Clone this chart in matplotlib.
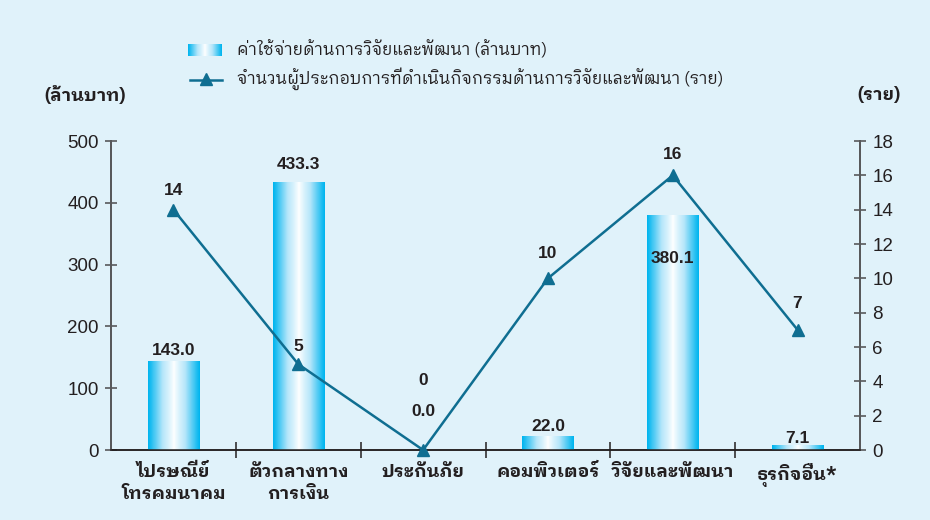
import numpy as np
import matplotlib
matplotlib.use('Agg')
import matplotlib.pyplot as plt
from matplotlib.colors import LinearSegmentedColormap
from matplotlib.lines import Line2D

thai = ['IBM Plex Sans Thai Looped', 'Liberation Sans']
plt.rcParams['font.family'] = ['Liberation Sans', 'IBM Plex Sans Thai Looped']

# data
categories = ['ไปรษณีย์\nโทรคมนาคม', 'ตัวกลางทาง\nการเงิน', 'ประกันภัย',
              'คอมพิวเตอร์', 'วิจัยและพัฒนา', 'ธุรกิจอื่น*']
spending = [143.0, 433.3, 0.0, 22.0, 380.1, 7.1]   # ล้านบาท
firms = [14, 5, 0, 10, 16, 7]                       # ราย

legend_bar = 'ค่าใช้จ่ายด้านการวิจัยและพัฒนา (ล้านบาท)'
legend_line = 'จำนวนผู้ประกอบการที่ดำเนินกิจกรรมด้านการวิจัยและพัฒนา (ราย)'

# label offsets (points, + is above)
bar_label_dy = [8, 13, 28, 7, -31, 5]
firm_label_dy = [14, 13, 50, 18, 15, 19]

bg = '#e0f2fa'
ink = '#231f20'
line_col = '#0f6e91'
cyan_white = LinearSegmentedColormap.from_list('cw', ['#ffffff', '#b5e6fa', '#00b5ef'])

fig = plt.figure(figsize=(9.3, 5.2), dpi=100, facecolor=bg)
ax = fig.add_axes([0.1194, 0.1346, 0.8053, 0.5942])
ax.set_facecolor(bg)
ax2 = ax.twinx()

x = np.arange(len(categories))
w = 0.41
grad = np.abs(np.linspace(-1, 1, 64)) ** 0.85
grad = grad[np.newaxis, :]

for xi, v in zip(x, spending):
    if v > 0:
        ax.imshow(grad, cmap=cyan_white, vmin=0, vmax=1, aspect='auto',
                  extent=(xi - w / 2, xi + w / 2, 0, v), zorder=3,
                  interpolation='bilinear')
for xi, v, dy in zip(x, spending, bar_label_dy):
    # labels set inside a bar sit on top of it
    ax.annotate(f'{v:.1f}', (xi, v), xytext=(0, dy), textcoords='offset points',
                ha='center', va='center', fontsize=12.5, fontweight='bold',
                color=ink, zorder=5 if dy < 0 else 2)

ax.set_xlim(-0.5, len(categories) - 0.5)
ax.set_ylim(0, 500)
ax.set_yticks(range(0, 501, 100))
ax2.set_ylim(0, 18)
ax2.set_yticks(range(0, 19, 2))

ax2.plot(x, firms, color=line_col, lw=1.8, marker='^', ms=9, zorder=4,
         clip_on=False)
for xi, v, dy in zip(x, firms, firm_label_dy):
    ax2.annotate(str(v), (xi, v), xytext=(0, dy), textcoords='offset points',
                 ha='center', va='center', fontsize=12.5, fontweight='bold',
                 color=ink)

# axes styling
for a in (ax, ax2):
    a.spines['top'].set_visible(False)
    a.spines['left'].set_color('#58595b')
    a.spines['right'].set_color('#58595b')
    a.spines['left'].set_linewidth(1.4)
    a.spines['right'].set_linewidth(1.4)
    a.spines['bottom'].set_color(ink)
    a.spines['bottom'].set_linewidth(1.1)
ax.tick_params(axis='y', direction='inout', length=9, width=1.2,
               color='#58595b', labelsize=13.5, labelcolor=ink, pad=4.5)
ax2.tick_params(axis='y', direction='inout', length=9, width=1.2,
                color='#58595b', labelsize=13.5, labelcolor=ink, pad=4.5)

ax.set_xticks(x)
ax.set_xticklabels(categories, fontsize=13, fontweight='bold', color=ink,
                   linespacing=1.3, family=thai)
ax.tick_params(axis='x', which='major', length=0, pad=9)
ax.set_xticks(x[:-1] + 0.5, minor=True)
ax.tick_params(axis='x', which='minor', direction='inout', length=12,
               width=1.1, color=ink)

fig.text(0.048, 0.817, '(ล้านบาท)', fontsize=13, fontweight='bold', color=ink,
         va='center', ha='left', family=thai)
fig.text(0.968, 0.817, '(ราย)', fontsize=13, fontweight='bold', color=ink,
         va='center', ha='right', family=thai)

# legend
sw = fig.add_axes([188 / 930, 1 - 56 / 520, 34 / 930, 12 / 520])
sw.imshow(grad, cmap=cyan_white, vmin=0, vmax=1, aspect='auto',
          interpolation='bilinear')
sw.set_axis_off()
fig.add_artist(Line2D([190 / 930, 222 / 930], [1 - 80 / 520] * 2,
                      color=line_col, lw=1.8))
fig.add_artist(Line2D([206 / 930], [1 - 79 / 520], color=line_col,
                      marker='^', ms=9, lw=0))
fig.text(237 / 930, 1 - 49 / 520, legend_bar, fontsize=12, color=ink,
         va='center', family=thai)
fig.text(237 / 930, 1 - 79 / 520, legend_line, fontsize=12, color=ink,
         va='center', family=thai)

fig.savefig('out.png', dpi=100, facecolor=bg)
